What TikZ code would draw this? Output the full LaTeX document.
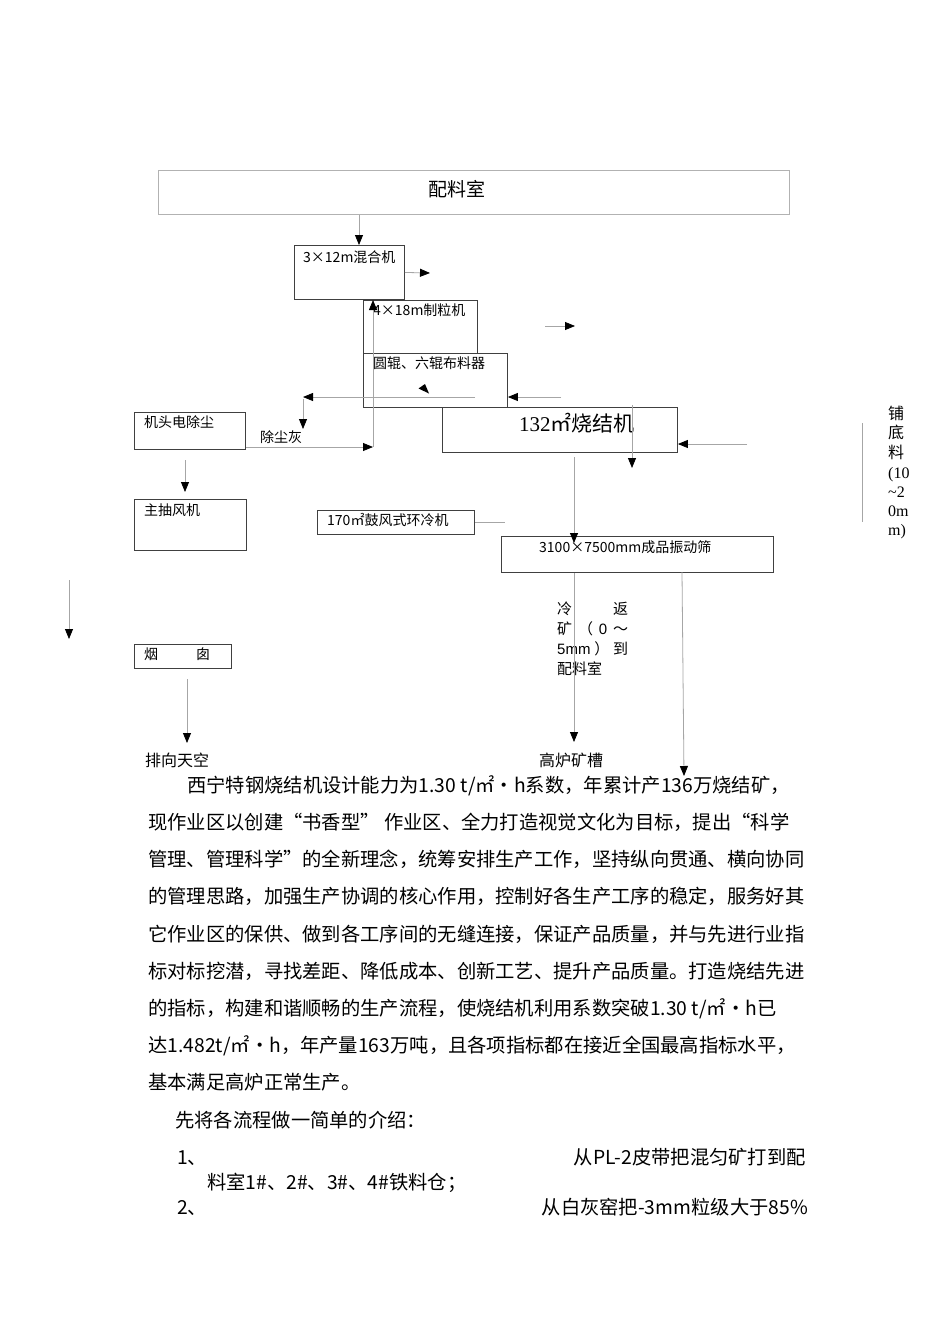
\documentclass[tikz,border=0pt]{standalone}
\usepackage{fontspec}
\setmainfont{Noto Sans CJK SC}
\newfontfamily\numfont{Liberation Serif}
\newfontfamily\sansnum{Liberation Sans}
\usetikzlibrary{arrows.meta}
\newcommand{\fsz}[1]{\fontsize{#1}{#1}\selectfont}
\begin{document}
\begin{tikzpicture}[x=1pt,y=-1pt,
  box/.style={draw=black!75, line width=0.9pt, inner sep=0pt, anchor=north west},
  ln/.style={draw=black!35, line width=0.8pt},
  arr/.style={ln, -{Triangle[length=10pt,width=8pt,color=black,fill=black]}},
  lbl/.style={inner sep=0pt, anchor=base west, font=\fsz{14}},
  para/.style={inner sep=0pt, anchor=base west, font=\fsz{19.3}},
]
\fill[white] (0,0) rectangle (950,1344);
\useasboundingbox (0,0) rectangle (950,1344);

% boxes
\node[box, draw=black!30, minimum width=631pt, minimum height=44pt] (pei) at (158,170) {};
\node[box, minimum width=110pt, minimum height=54pt] (mix) at (294,245) {};
\node[box, minimum width=114pt, minimum height=53pt] (zl) at (363,300) {};
\node[box, minimum width=144pt, minimum height=54pt] (bu) at (363,353) {};
\node[box, minimum width=235pt, minimum height=45pt] (sj) at (442,407) {};
\node[box, minimum width=111pt, minimum height=37pt] (jt) at (134,412) {};
\node[box, minimum width=112pt, minimum height=51pt] (zc) at (134,499) {};
\node[box, minimum width=157pt, minimum height=24pt] (hl) at (317,510) {};
\node[box, minimum width=272pt, minimum height=36pt] (zd) at (501,536) {};
\node[box, minimum width=97pt, minimum height=24pt] (yc) at (134,644) {};

% labels
\node[inner sep=0pt, font=\fsz{19}] (peiL) at (457,189) {配料室};
\node[lbl] (mixL) at (303,262.3) {3×12m混合机};
\node[lbl] (zlL) at (373,315.3) {4×18m制粒机};
\node[lbl] (buL) at (373,368.3) {圆辊、六辊布料器};
\node[lbl] (jtL) at (144,427.3) {机头电除尘};
\node[lbl] (chL) at (260,442.3) {除尘灰};
\node[lbl] (zcL) at (144,515.3) {主抽风机};
\node[lbl] (hlL) at (327,525.3) {170㎡鼓风式环冷机};
\node[lbl] (zdL) at (539,552.3) {3100×7500mm成品振动筛};
\node[lbl] (ycL) at (144,659.3) {\hbox to 66pt{烟\hfill 囱}};
\node[lbl, font=\fsz{21}] (sjL) at (519,431) {{\numfont 132}㎡烧结机};
\node[lbl, font=\fsz{16}] (pxL) at (145,766) {排向天空};
\node[lbl, font=\fsz{16}] (glL) at (539,766) {高炉矿槽};

% 冷返矿 block
\node[lbl, font=\fsz{15}] (lf1) at (557,614.7) {\hbox to 71pt{冷\hfill 返}};
\node[lbl, font=\fsz{15}] (lf2) at (557,634.7) {\hbox to 71pt{矿\hfill （\hfill{\sansnum 0}\hfill ～}};
\node[lbl, font=\fsz{15}] (lf3) at (557,654.7) {\hbox to 71pt{{\sansnum 5mm}\hfill ）\hfill 到}};
\node[lbl, font=\fsz{15}] (lf4) at (557,674.7) {配料室};

% 铺底料 block
\node[lbl, font=\fsz{16}] (pd1) at (888,419) {铺};
\node[lbl, font=\fsz{16}] (pd2) at (888,438.5) {底};
\node[lbl, font=\fsz{16}] (pd3) at (888,458) {料};
\node[lbl, font=\fsz{16}\numfont] (pd4) at (888,478.5) {(10};
\node[lbl, font=\fsz{16}\numfont] (pd5) at (888,497.5) {\textasciitilde 2};
\node[lbl, font=\fsz{16}\numfont] (pd6) at (888,516) {0m};
\node[lbl, font=\fsz{16}\numfont] (pd7) at (888,535.5) {m)};

% coordinates for free ends
\coordinate (xA) at (359,0);
\coordinate (mixR) at (430,273);
\coordinate (g1) at (545,326);
\coordinate (g2) at (575,326);
\coordinate (b1) at (561,397);
\coordinate (d1) at (475,397);
\coordinate (d2) at (303,397);
\coordinate (d3) at (303,399);
\coordinate (d4) at (303,429);
\coordinate (v1) at (373,447);
\coordinate (s1) at (747,444);
\coordinate (s2) at (632,405);
\coordinate (s3) at (632,468);
\coordinate (s4) at (574,457);
\coordinate (s5) at (574,543);
\coordinate (j1) at (185,460);
\coordinate (j2) at (185,492);
\coordinate (l1) at (69,580);
\coordinate (l2) at (69,639);
\coordinate (y1) at (187,679);
\coordinate (y2) at (187,743);
\coordinate (h1) at (505,522);
\coordinate (z1) at (574,742);
\coordinate (z2) at (682,572);
\coordinate (z3) at (684,776);
\coordinate (p1) at (862,423);
\coordinate (p2) at (862,522);

% connectors
\draw[arr] (pei.south -| xA) -- (mix.north -| xA);
\draw[arr] (mix.east) -- (mixR);
\draw[arr] (g1) -- (g2);
\draw[arr] (b1) -- (bu.east |- b1);
\draw[arr] (d1) -- (d2);
\draw[arr] (d3) -- (d4);
\draw[arr] (jt.east |- v1) -- (v1);
\draw[arr] (v1) -- (zl.north -| v1);
\draw[arr] (s1) -- (sj.east |- s1);
\draw[arr] (s2) -- (s3);
\draw[arr] (s4) -- (s5);
\draw[arr] (j1) -- (j2);
\draw[arr] (l1) -- (l2);
\draw[arr] (y1) -- (y2);
\draw[ln] (hl.east |- h1) -- (h1);
\draw[arr] (zd.south -| z1) -- (z1);
\draw[arr] (z2) -- (z3);
\draw[ln] (p1) -- (p2);
\fill[black] (418.5,388.5) -- (429,393.5) -- (425,384) -- cycle;

% paragraph
\node[para] (t1) at (187,792.3) {西宁特钢烧结机设计能力为1.30 t/㎡·h系数，年累计产136万烧结矿，};
\node[para] (t2) at (148,829.5) {现作业区以创建“书香型” 作业区、全力打造视觉文化为目标，提出“科学};
\node[para] (t3) at (148,866.7) {管理、管理科学”的全新理念，统筹安排生产工作，坚持纵向贯通、横向协同};
\node[para] (t4) at (148,903.9) {的管理思路，加强生产协调的核心作用，控制好各生产工序的稳定，服务好其};
\node[para] (t5) at (148,941.1) {它作业区的保供、做到各工序间的无缝连接，保证产品质量，并与先进行业指};
\node[para] (t6) at (148,978.3) {标对标挖潜，寻找差距、降低成本、创新工艺、提升产品质量。打造烧结先进};
\node[para] (t7) at (148,1015.5) {的指标，构建和谐顺畅的生产流程，使烧结机利用系数突破1.30 t/㎡·h已};
\node[para] (t8) at (148,1052.7) {达1.482t/㎡·h，年产量163万吨，且各项指标都在接近全国最高指标水平，};
\node[para] (t9) at (148,1089.9) {基本满足高炉正常生产。};
\node[para] (t10) at (175,1127.1) {先将各流程做一简单的介绍：};
\node[para] (t11a) at (177,1164.3) {1、};
\node[para, anchor=base east] (t11b) at (806,1164.3) {从PL-2皮带把混匀矿打到配};
\node[para] (t12) at (207,1189.3) {料室1\#、2\#、3\#、4\#铁料仓；};
\node[para] (t13a) at (177,1214.3) {2、};
\node[para, anchor=base east] (t13b) at (808,1214.3) {从白灰窑把-3mm粒级大于85\%};
\end{tikzpicture}
\end{document}
